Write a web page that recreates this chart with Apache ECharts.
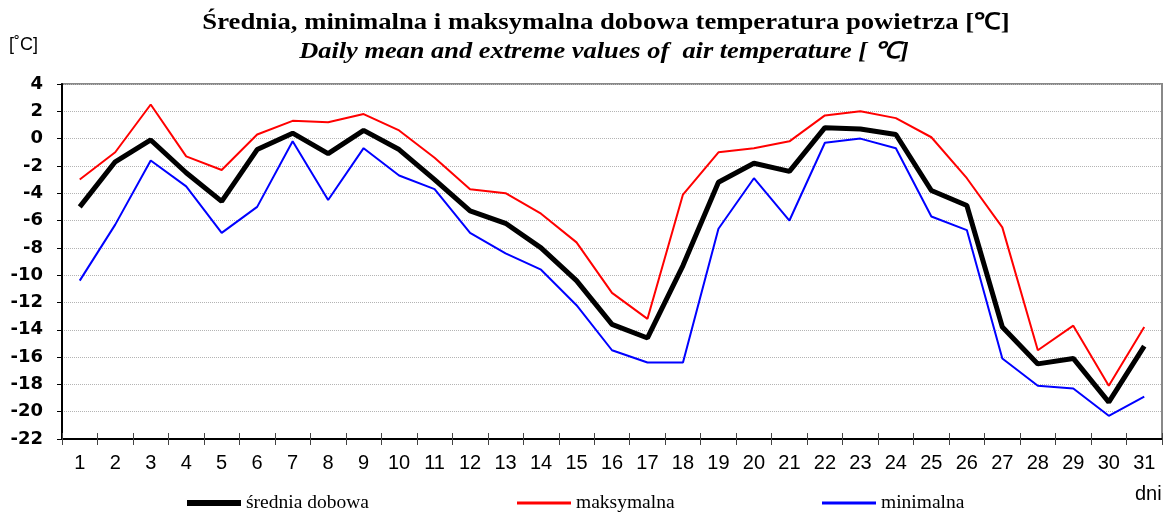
<!DOCTYPE html>
<html>
<head>
<meta charset="utf-8">
<script src="https://cdn.jsdelivr.net/npm/echarts@6/dist/echarts.min.js"></script>
<style>
  html, body { margin: 0; padding: 0; background: #fff; }
  #chart { width: 1171px; height: 512px; }
</style>
</head>
<body>
<div id="chart"></div>
<script>
// dni miesiaca
var days = ['1','2','3','4','5','6','7','8','9','10','11','12','13','14','15','16','17','18','19','20','21','22','23','24','25','26','27','28','29','30','31'];
// srednia dobowa
var meanTemp = [-5.0, -1.7, -0.1, -2.5, -4.6, -0.8, 0.4, -1.1, 0.6, -0.8, -3.0, -5.3, -6.2, -8.0, -10.4, -13.6, -14.6, -9.3, -3.2, -1.8, -2.4, 0.8, 0.7, 0.3, -3.8, -4.9, -13.8, -16.5, -16.1, -19.3, -15.2];
// maksymalna
var maxTemp = [-3.0, -1.0, 2.5, -1.3, -2.3, 0.3, 1.3, 1.2, 1.8, 0.6, -1.4, -3.7, -4.0, -5.5, -7.6, -11.3, -13.2, -4.1, -1.0, -0.7, -0.2, 1.7, 2.0, 1.5, 0.1, -2.9, -6.5, -15.5, -13.7, -18.1, -13.8];
// minimalna
var minTemp = [-10.4, -6.3, -1.6, -3.5, -6.9, -5.0, -0.2, -4.5, -0.7, -2.7, -3.7, -6.9, -8.4, -9.6, -12.2, -15.5, -16.4, -16.4, -6.6, -2.9, -6.0, -0.3, 0.0, -0.7, -5.7, -6.7, -16.1, -18.1, -18.3, -20.3, -18.9];

var myChart = echarts.init(document.getElementById('chart'));

var serif = '"Liberation Serif", "Times New Roman", serif';
var sans = '"Liberation Sans", Arial, sans-serif';

// legenda - osobny komponent dla kazdej serii
function legendFor(name, left, h) {
  return {
    left: left,
    top: 488,
    data: [name],
    icon: 'rect',
    itemWidth: 54,
    itemHeight: h,
    itemGap: 0,
    textStyle: { fontFamily: serif, fontSize: 19.5, color: '#000', padding: [0, 0, 0, 0] }
  };
}

var option = {
  animation: false,
  graphic: [
    {
      type: 'text', x: 606, y: 23, scaleX: 1.16,
      style: {
        text: 'Średnia, minimalna i maksymalna dobowa temperatura powietrza [℃]',
        fontFamily: serif, fontSize: 23, fontWeight: 'bold', fill: '#000',
        textAlign: 'center', textVerticalAlign: 'middle'
      }
    },
    {
      type: 'text', x: 604, y: 52, scaleX: 1.147,
      style: {
        text: 'Daily mean and extreme values of  air temperature [ ℃]',
        fontFamily: serif, fontSize: 23, fontWeight: 'bold', fontStyle: 'italic', fill: '#000',
        textAlign: 'center', textVerticalAlign: 'middle'
      }
    },
    {
      type: 'text', x: 9, y: 45,
      style: { text: '[˚C]', fontFamily: sans, fontSize: 18, fill: '#000', textVerticalAlign: 'middle' }
    },
    {
      type: 'text', x: 1135, y: 494,
      style: { text: 'dni', fontFamily: sans, fontSize: 20, fill: '#000', textVerticalAlign: 'middle' }
    }
  ],
  legend: [
    legendFor('średnia dobowa', 182, 6),
    legendFor('maksymalna', 512, 3),
    legendFor('minimalna', 817, 3)
  ],
  grid: {
    left: 62, right: 9, top: 84, bottom: 73,
    show: true, borderColor: '#888', borderWidth: 2
  },
  xAxis: [
    {
      type: 'category',
      data: days,
      boundaryGap: true,
      axisLine: { onZero: false, lineStyle: { color: '#000', width: 2 } },
      axisTick: { show: true, length: 6, lineStyle: { color: '#444', width: 1 } },
      axisLabel: { fontFamily: sans, fontSize: 20, color: '#000', margin: 14 },
      splitLine: { show: false }
    },
    {
      // wewnetrzne kreski podzialki osi X
      type: 'category',
      data: days,
      position: 'bottom',
      boundaryGap: true,
      axisLine: { show: false, onZero: false },
      axisTick: { show: true, inside: true, length: 6, lineStyle: { color: '#444', width: 1 } },
      axisLabel: { show: false },
      splitLine: { show: false }
    }
  ],
  yAxis: {
    type: 'value',
    min: -22, max: 4, interval: 2,
    axisLine: { show: true, lineStyle: { color: '#000', width: 2 } },
    axisTick: { show: true, length: 5, lineStyle: { color: '#000' } },
    axisLabel: { fontFamily: '"DejaVu Sans", sans-serif', fontSize: 18, fontWeight: 'bold', color: '#000', margin: 19 },
    splitLine: { show: true, lineStyle: { color: '#b4b4b4', type: 'dotted', width: 1 } }
  },
  series: [
    {
      name: 'maksymalna', type: 'line', data: maxTemp,
      symbol: 'none', itemStyle: { color: '#ff0000' },
      lineStyle: { color: '#ff0000', width: 2 }, z: 2
    },
    {
      name: 'minimalna', type: 'line', data: minTemp,
      symbol: 'none', itemStyle: { color: '#0000ff' },
      lineStyle: { color: '#0000ff', width: 2 }, z: 2
    },
    {
      name: 'średnia dobowa', type: 'line', data: meanTemp,
      symbol: 'none', itemStyle: { color: '#000' },
      lineStyle: { color: '#000', width: 5 }, z: 3
    }
  ]
};

myChart.setOption(option);
</script>
</body>
</html>
